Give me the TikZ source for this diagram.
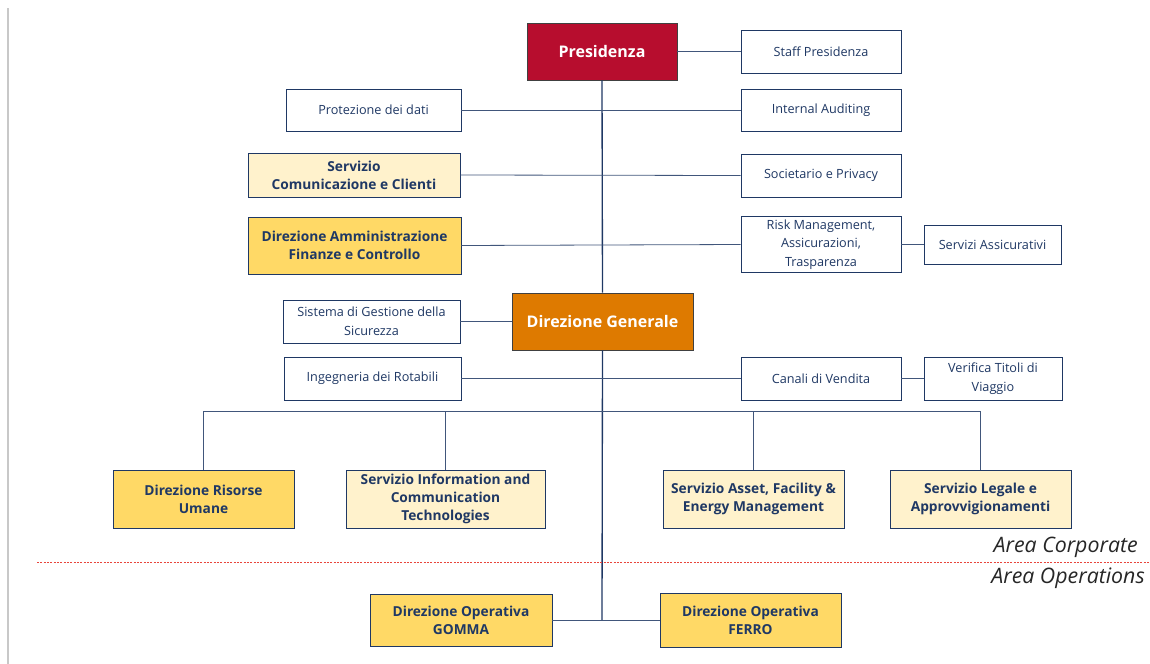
\documentclass[tikz,border=0pt]{standalone}
\usepackage{fontspec}
\setmainfont{Open Sans}
\usepackage{xcolor}
\definecolor{navy}{HTML}{1F3864}
\definecolor{crimson}{HTML}{B70D2E}
\definecolor{pumpkin}{HTML}{DE7A00}
\definecolor{gold}{HTML}{FFD966}
\definecolor{cream}{HTML}{FFF2CC}
\definecolor{edgegray}{HTML}{C8C8C8}
\definecolor{cutred}{HTML}{E8453C}
\tikzset{
  sz/.style 2 args={minimum width=#1*0.75pt, minimum height=#2*0.75pt},
  box/.style={rectangle, draw=navy, line width=0.7pt, fill=white, align=center, text=navy,
              inner sep=2pt, font=\fontsize{9.5}{14}\selectfont},
  dirbox/.style={box, fill=gold, font=\fontsize{10.3}{13.6}\selectfont\bfseries},
  servbox/.style={dirbox, fill=cream},
  headbox/.style={box, draw=black!75, text=white, font=\fontsize{12}{15}\selectfont\bfseries},
  link/.style={draw=navy!85, line width=0.6pt},
  spine/.style={draw=navy, line width=1pt},
  area/.style={font=\fontsize{16}{18}\selectfont\itshape, text=black!85, anchor=east, inner sep=0pt},
}

\begin{document}
\begin{tikzpicture}[x=0.75pt,y=-0.75pt]
\useasboundingbox (0,0) rectangle (1150,664);
\draw[edgegray, line width=0.8pt] (8,8) -- (8,664);

% vertice
\node[headbox, fill=crimson, sz={150}{57}] (pres) at (602,51.5) {Presidenza};
\node[box, sz={160}{43}] (staff) at (821,51.5) {Staff Presidenza};
\node[box, sz={160}{42}] (audit) at (821,110) {Internal Auditing};
\node[box, sz={175}{42}] (prot) at (373.5,110) {Protezione dei dati};
\node[servbox, sz={212}{44}] (comm) at (354,175) {Servizio\\Comunicazione e Clienti};
\node[box, sz={160}{43}] (soc) at (821,175.5) {Societario e Privacy};
\node[dirbox, sz={213}{57}] (amm) at (354.5,245.5) {Direzione Amministrazione\\Finanze e Controllo};
\node[box, sz={160}{55}] (risk) at (821,244.5) {Risk Management,\\Assicurazioni,\\Trasparenza};
\node[box, sz={137}{39}] (assic) at (992.5,244.5) {Servizi Assicurativi};

% direzione generale
\node[headbox, fill=pumpkin, sz={181}{57}] (dg) at (602.5,321.5) {Direzione Generale};
\node[box, sz={177}{43}] (sgs) at (371.5,321.5) {Sistema di Gestione della\\Sicurezza};
\node[box, sz={177}{43}] (ing) at (372.5,378.5) {Ingegneria dei Rotabili};
\node[box, sz={160}{43}] (canali) at (821,378.5) {Canali di Vendita};
\node[box, sz={138}{43}] (verif) at (993,378.5) {Verifica Titoli di\\Viaggio};

% area corporate
\coordinate (bus) at (602,411);
\node[dirbox, sz={181}{58}] (hr) at (203.5,499) {Direzione Risorse\\Umane};
\node[servbox, sz={199}{58}] (ict) at (445.5,499) {Servizio Information and\\Communication\\Technologies};
\node[servbox, sz={181}{58}] (asset) at (753.5,499) {Servizio Asset, Facility \&\\Energy Management};
\node[servbox, sz={181}{58}] (legal) at (980.5,499) {Servizio Legale e\\Approvvigionamenti};

% area operations
\coordinate (opj) at (602,620);
\node[dirbox, sz={182}{52}] (gomma) at (461,620) {Direzione Operativa\\GOMMA};
\node[dirbox, sz={181}{54}] (ferro) at (750.5,620) {Direzione Operativa\\FERRO};

\draw[spine] (pres.south) -- (dg.north);
\draw[spine] (dg.south) -- (opj);
\draw[link] (pres.east) -- (staff.west);
\draw[link] (prot.east) -- (audit.west);
\draw[link] (comm.east) -- (soc.west);
\draw[link] (amm.east) -- (risk.west);
\draw[link] (risk.east) -- (assic.west);
\draw[link] (sgs.east) -- (dg.west);
\draw[link] (ing.east) -- (canali.west);
\draw[link] (canali.east) -- (verif.west);
\draw[link] (hr.north) |- (legal.north |- bus) -- (legal.north);
\draw[link] (ict.north) -- (ict.north |- bus);
\draw[link] (asset.north) -- (asset.north |- bus);
\draw[link] (gomma.east) -- (ferro.west);

\draw[cutred, line width=0.6pt, dash pattern=on 1.5pt off 1pt] (37,562) -- (1150,562);
\node[area] (corp) at (1138,547) {Area Corporate};
\node[area] (oper) at (1145,578) {Area Operations};
\end{tikzpicture}
\end{document}
